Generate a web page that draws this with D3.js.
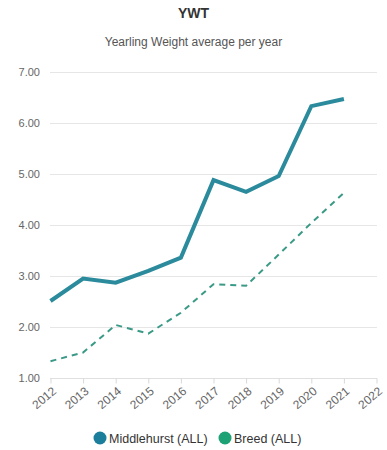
<!DOCTYPE html>
<html>
<head>
<meta charset="utf-8">
<script src="https://cdn.jsdelivr.net/npm/d3@7"></script>
<style>
body { margin: 0; background: #fff; font-family: "Liberation Sans", Arial, sans-serif; }
</style>
</head>
<body>
<div id="vis"></div>
<script>
var years = [2012, 2013, 2014, 2015, 2016, 2017, 2018, 2019, 2020, 2021];
var middlehurst = [2.51, 2.95, 2.87, 3.10, 3.36, 4.88, 4.65, 4.96, 6.33, 6.47];
var breed = [1.33, 1.50, 2.04, 1.87, 2.28, 2.84, 2.81, 3.42, 4.04, 4.63];
var yTicks = [1, 2, 3, 4, 5, 6, 7];
var xTicks = [2012, 2013, 2014, 2015, 2016, 2017, 2018, 2019, 2020, 2021, 2022];

var W = 387, H = 450;
var svg = d3.select("#vis").append("svg").attr("width", W).attr("height", H);

var x = d3.scaleLinear().domain([2012, 2022]).range([50.5, 376.5]);
var y = d3.scaleLinear().domain([1, 7]).range([378, 72]);

svg.append("text").attr("x", W / 2).attr("y", 18).attr("text-anchor", "middle")
    .style("font-size", "14px").style("font-weight", "bold").style("fill", "#333")
    .text("YWT");
svg.append("text").attr("x", W / 2).attr("y", 46).attr("text-anchor", "middle")
    .style("font-size", "12px").style("fill", "#555")
    .text("Yearling Weight average per year");

// grid
svg.selectAll(".grid").data(yTicks.slice(1)).enter().append("line")
    .attr("x1", 50).attr("x2", 377)
    .attr("y1", function(d) { return Math.round(y(d)) + 0.5; })
    .attr("y2", function(d) { return Math.round(y(d)) + 0.5; })
    .attr("stroke", "#e6e6e6").attr("stroke-width", 1);

svg.selectAll(".ylab").data(yTicks).enter().append("text")
    .attr("x", 40).attr("y", function(d) { return y(d) + 4; })
    .attr("text-anchor", "end")
    .style("font-size", "11px").style("fill", "#666")
    .text(function(d) { return d.toFixed(2); });

// x axis
var xAxis = d3.axisBottom(x).tickValues(xTicks).tickFormat(d3.format("d")).tickSize(5).tickSizeOuter(0);
var gx = svg.append("g").attr("transform", "translate(0,378.5)").call(xAxis);
gx.select(".domain").attr("stroke", "#e0e0e0").attr("d", "M50,0H377");
gx.selectAll(".tick line").attr("stroke", "#d8d8d8");
gx.selectAll(".tick text")
    .style("font-size", "12px").style("fill", "#666").style("font-family", "Liberation Sans, Arial, sans-serif")
    .attr("text-anchor", "end").attr("dy", null).attr("y", 0)
    .attr("transform", "translate(6,14) rotate(-40)");

var line = d3.line().x(function(d, i) { return x(years[i]); }).y(function(d) { return y(d); });

svg.append("path").datum(breed).attr("d", line)
    .attr("fill", "none").attr("stroke", "#3a9a87").attr("stroke-width", 2)
    .attr("stroke-dasharray", "6,5");

svg.append("path").datum(middlehurst).attr("d", line)
    .attr("fill", "none").attr("stroke", "#2b8b9c").attr("stroke-width", 4)
    .attr("stroke-linejoin", "miter");

// legend
var legend = [
    { name: "Middlehurst (ALL)", color: "#1b7f9b", x: 100 },
    { name: "Breed (ALL)", color: "#1ca274", x: 225 }
];
var lg = svg.selectAll(".leg").data(legend).enter().append("g")
    .attr("transform", function(d) { return "translate(" + d.x + ",438)"; });
lg.append("circle").attr("r", 6.5).attr("fill", function(d) { return d.color; });
lg.append("text").attr("x", 9).attr("y", 4.5)
    .style("font-size", "12.5px").style("fill", "#333")
    .text(function(d) { return d.name; });
</script>
</body>
</html>
